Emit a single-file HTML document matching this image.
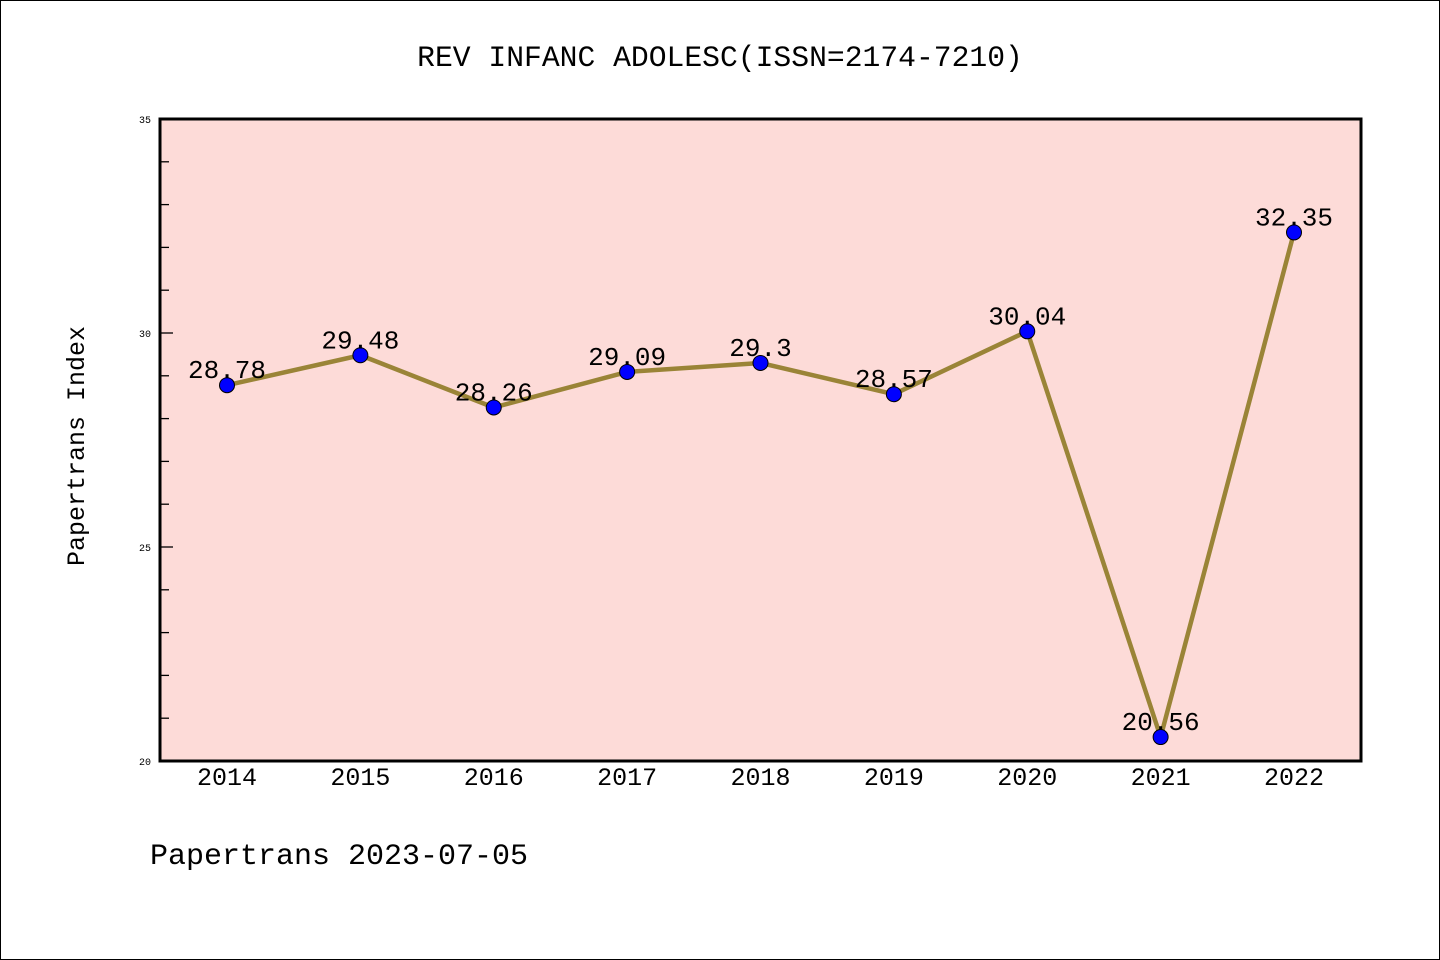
<!DOCTYPE html>
<html><head><meta charset="utf-8"><style>
html,body{margin:0;padding:0;background:#fff;}
svg{display:block;font-family:"Liberation Mono",monospace;}
</style></head><body>
<svg id="chart" width="1440" height="960">
<rect x="0.5" y="0.5" width="1439" height="959" fill="#fff" stroke="#000"/>
<text x="720" y="66" font-size="29.7" text-anchor="middle">REV INFANC ADOLESC(ISSN=2174-7210)</text>
<rect x="160" y="119" width="1201" height="642" fill="#fddbd8"/>
<g id="ticks"></g>
<g id="series"></g>
<rect x="160" y="119" width="1201" height="642" fill="none" stroke="#000" stroke-width="3"/>
<text transform="translate(84,446) rotate(-90)" font-size="25" text-anchor="middle">Papertrans Index</text>
<text x="150" y="864" font-size="30">Papertrans 2023-07-05</text>
</svg>
<script>
const years = ["2014","2015","2016","2017","2018","2019","2020","2021","2022"];
const values = [28.78,29.48,28.26,29.09,29.3,28.57,30.04,20.56,32.35];
const labels = ["28.78","29.48","28.26","29.09","29.3","28.57","30.04","20.56","32.35"];
const yTicks = [20,25,30,35];
const NS="http://www.w3.org/2000/svg";
const X0=227, XS=(1294-227)/8;
const xs=i=>X0+i*XS;
const ys=v=>761-(v-20)*(642/15);
function mk(tag,attrs,parent){const e=document.createElementNS(NS,tag);for(const k in attrs)e.setAttribute(k,attrs[k]);parent.appendChild(e);return e;}
const tg=document.getElementById('ticks');
for(let v=21;v<35;v++){
  const t=mk('line',{x1:160,x2:v%5===0?173:169,y1:ys(v),y2:ys(v),stroke:'#000','stroke-width':1.3},tg);
  
  
}
yTicks.forEach(v=>{
  const t=mk('text',{x:151,y:ys(v)+4,'font-size':10,'text-anchor':'end'},tg);
  t.textContent=v;
  
  
});
years.forEach((y,i)=>{
  const t=mk('text',{x:xs(i),y:785,'font-size':25,'text-anchor':'middle'},tg);
  t.textContent=y;
  
  
});
const sg=document.getElementById('series');
const line=mk('polyline',{points:values.map((v,i)=>xs(i)+','+ys(v)).join(' '),fill:'none',stroke:'#9a8437','stroke-width':4.5,'stroke-linejoin':'round'},sg);


values.forEach((v,i)=>{
  const c=mk('circle',{cx:xs(i),cy:ys(v),r:7.5,fill:'#0000ff',stroke:'#000','stroke-width':1},sg);
  
  
  const t=mk('text',{x:xs(i),y:ys(v)-7,'font-size':26,'text-anchor':'middle'},sg);
  t.textContent=labels[i];
  
  
});
</script>
</body></html>
